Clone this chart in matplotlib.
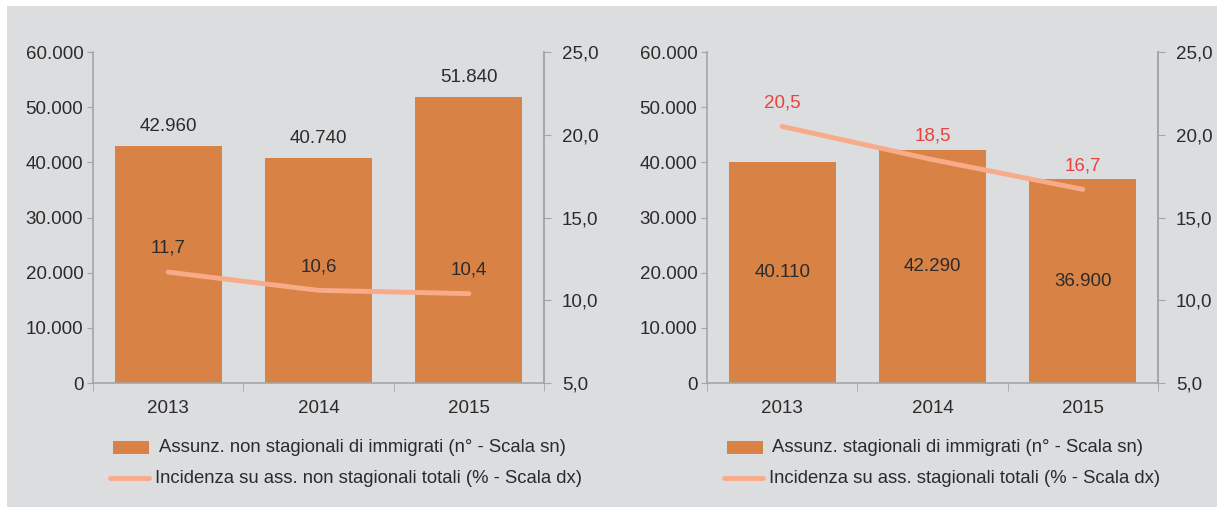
import matplotlib.pyplot as plt
from matplotlib.patches import Rectangle

# data
years = ["2013", "2014", "2015"]
non_stag = [42960, 40740, 51840]
non_stag_pct = [11.7, 10.6, 10.4]
stag = [40110, 42290, 36900]
stag_pct = [20.5, 18.5, 16.7]

left_ticks = [0, 10000, 20000, 30000, 40000, 50000, 60000]
right_ticks = [5, 10, 15, 20, 25]

legend_bar = ["Assunz. non stagionali di immigrati (n° - Scala sn)",
              "Assunz. stagionali di immigrati (n° - Scala sn)"]
legend_line = ["Incidenza su ass. non stagionali totali (% - Scala dx)",
               "Incidenza su ass. stagionali totali (% - Scala dx)"]

BG = "#dcdddf"
BAR = "#d98245"
LINE = "#f8ab88"
RED = "#e8423f"
TXT = "#2b2b2b"
SPINE = "#a5a5a5"
FS = 13.5

plt.rcParams['font.family'] = ['Liberation Sans', 'DejaVu Sans']

fig = plt.figure(figsize=(12.24, 5.13), dpi=100)
fig.patch.set_facecolor("white")
fig.patches.append(Rectangle((7 / 1224, 6 / 513), 1210 / 1224, 501 / 513,
                             transform=fig.transFigure, facecolor=BG,
                             edgecolor="none", zorder=-10))


def fmt_int(v):
    return f"{v:,.0f}".replace(",", ".")


def fmt_pct(v):
    return f"{v:.1f}".replace(".", ",")


def panel(left, bars, pct, inside, lab_bar, lab_line):
    ax = fig.add_axes([left, 0.2534, 0.3685, 0.6452])
    ax.set_facecolor("none")
    x = range(len(years))
    ax.bar(x, bars, width=0.713, color=BAR, zorder=2)
    ax.set_xlim(-0.5, 2.5)
    ax.set_ylim(0, 60000)
    ax.set_yticks(left_ticks)
    ax.set_yticklabels([fmt_int(t) for t in left_ticks], fontsize=FS, color=TXT)
    ax.set_xticks(list(x))
    ax.set_xticklabels(years, fontsize=FS, color=TXT)
    ax.tick_params(axis="x", length=0, pad=12)
    ax.set_xticks([-0.5, 0.5, 1.5, 2.5], minor=True)
    ax.tick_params(axis="x", which="minor", length=6, color=SPINE, direction="out")
    ax.tick_params(axis="y", length=4, color=SPINE, pad=3)
    for s in ["left", "right", "bottom"]:
        ax.spines[s].set_color(SPINE)
        ax.spines[s].set_linewidth(1.2)
    ax.spines["top"].set_visible(False)

    ax2 = ax.twinx()
    ax2.plot(list(x), pct, color=LINE, lw=3.5, solid_capstyle="round", zorder=3)
    ax2.set_ylim(5, 25)
    ax2.set_yticks(right_ticks)
    ax2.set_yticklabels([fmt_pct(t) for t in right_ticks], fontsize=FS, color=TXT)
    ax2.tick_params(axis="y", length=5, color=SPINE, pad=8)
    for s in ["left", "right", "bottom", "top"]:
        ax2.spines[s].set_visible(False)
    ax2.spines["right"].set_visible(True)
    ax2.spines["right"].set_color(SPINE)
    ax2.spines["right"].set_linewidth(1.2)

    for i, (b, p) in enumerate(zip(bars, pct)):
        if inside:
            ax.text(i, b / 2, fmt_int(b), ha="center", va="center",
                    fontsize=FS, color=TXT, zorder=4)
            ax2.annotate(fmt_pct(p), (i, p), xytext=(0, 11), textcoords="offset points",
                         ha="center", va="bottom", fontsize=FS, color=RED)
        else:
            ax.annotate(fmt_int(b), (i, b), xytext=(0, 8), textcoords="offset points",
                        ha="center", va="bottom", fontsize=FS, color=TXT)
            ax2.annotate(fmt_pct(p), (i, p), xytext=(0, 11), textcoords="offset points",
                         ha="center", va="bottom", fontsize=FS, color=TXT)

    # legend
    lx = left + 0.0165
    fig.patches.append(Rectangle((lx, 0.115), 0.029, 0.026, transform=fig.transFigure,
                                 facecolor=BAR, edgecolor="none"))
    fig.lines.append(plt.Line2D([lx - 0.003, lx + 0.029], [0.068, 0.068],
                                transform=fig.transFigure, color=LINE, lw=3.5,
                                solid_capstyle="round"))
    fig.text(lx + 0.037, 0.128, lab_bar, fontsize=13.3, color=TXT, va="center")
    fig.text(lx + 0.034, 0.068, lab_line, fontsize=13.3, color=TXT, va="center")


panel(0.076, non_stag, non_stag_pct, False, legend_bar[0], legend_line[0])
panel(0.5776, stag, stag_pct, True, legend_bar[1], legend_line[1])

fig.savefig("out.png", dpi=100, facecolor=fig.get_facecolor())
